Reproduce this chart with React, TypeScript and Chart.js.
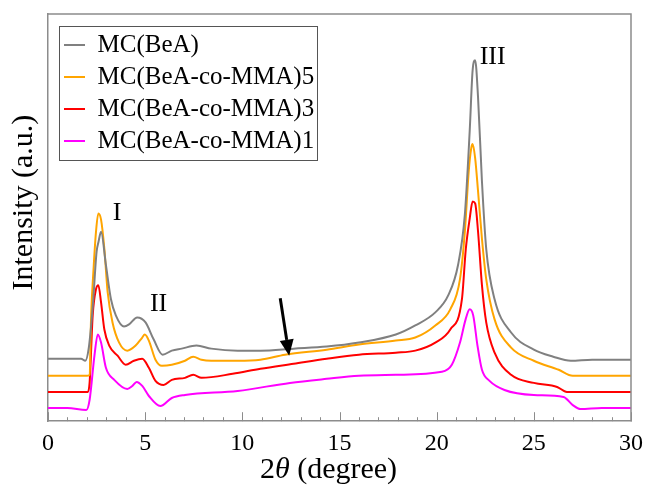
import React, { useEffect, useRef } from 'react';
import { Chart, registerables } from 'chart.js';

Chart.register(...registerables);

// ---- Data (2θ in degrees, intensity in arbitrary units) ----
const seriesNames = ['MC(BeA)', 'MC(BeA-co-MMA)5', 'MC(BeA-co-MMA)3', 'MC(BeA-co-MMA)1'];
const seriesColors = ['#808080', '#ffa500', '#ff0000', '#ff00ff'];

const beaX = [0, 1, 1.7, 1.92, 2.1, 2.3, 2.5, 2.6, 2.73, 2.98, 3.24, 3.49, 3.91, 4.17, 4.59, 5.02, 5.44, 5.9, 6.37, 6.88, 7.64, 8.4, 9.76, 10.93, 12.64, 14.34, 16.0, 17.9, 18.9, 19.93, 20.6, 21.1, 21.45, 21.7, 21.85, 21.98, 22.13, 22.33, 22.55, 22.98, 23.83, 25.0, 26.0, 26.9, 28, 30];
const beaY = [62, 62, 62, 60, 73, 113, 168, 178, 188, 155, 121, 105, 94, 96, 103, 98, 81, 66, 70, 72, 75, 72, 70, 70, 72, 74, 78, 86, 95, 108, 125, 155, 205, 288, 348, 358, 321, 238, 171, 121, 88, 71, 64, 60, 61, 61];

const mma5X = [0, 1, 2.0, 2.14, 2.22, 2.35, 2.47, 2.59, 2.73, 2.9, 3.07, 3.32, 3.66, 4.08, 4.51, 4.85, 4.98, 5.19, 5.53, 5.86, 6.37, 7.05, 7.47, 7.9, 8.4, 9.76, 10.93, 12.2, 14.34, 16.0, 17.9, 18.9, 19.93, 20.7, 21.2, 21.45, 21.65, 21.78, 21.85, 21.98, 22.13, 22.33, 22.55, 22.98, 23.83, 25.0, 26.28, 27.0, 28.5, 30];
const mma5Y = [45, 45, 45, 46, 105, 153, 188, 206, 200, 171, 128, 98, 78, 70, 75, 83, 86, 80, 61, 55, 56, 60, 64, 61, 60, 60, 61, 66, 71, 76, 80, 83, 95, 111, 141, 188, 248, 271, 275, 261, 228, 181, 141, 101, 73, 60, 51, 45, 45, 45];

const mma3X = [0, 1, 2.05, 2.14, 2.3, 2.47, 2.59, 2.73, 2.9, 3.15, 3.58, 4.0, 4.42, 4.85, 5.19, 5.53, 5.95, 6.37, 7.05, 7.47, 7.9, 9.5, 10.93, 12.64, 14.34, 16.0, 17.9, 18.9, 19.93, 20.7, 21.3, 21.5, 21.7, 21.85, 21.98, 22.13, 22.33, 22.55, 22.98, 23.83, 25.0, 26.2, 26.7, 28, 30];
const mma3Y = [29, 29, 29, 38, 105, 131, 135, 118, 91, 75, 65, 56, 60, 62, 53, 40, 36, 41, 43, 46, 43, 47, 52, 57, 62, 66, 68, 70, 78, 91, 121, 171, 201, 218, 216, 188, 135, 98, 68, 46, 38, 34, 29, 29, 29];

const mma1X = [0, 1, 1.97, 2.14, 2.39, 2.56, 2.73, 2.98, 3.41, 4.08, 4.34, 4.56, 4.85, 5.19, 5.78, 6.37, 7.05, 9.76, 12.45, 14.34, 16.0, 17.9, 20.27, 20.78, 21.2, 21.49, 21.7, 21.88, 22.1, 22.33, 22.72, 23.49, 25.0, 26.53, 27.0, 27.4, 28.5, 30];
const mma1Y = [13, 13, 11, 21, 65, 86, 78, 53, 41, 32, 35, 39, 35, 25, 15, 23, 26, 30, 38, 42, 45, 46, 49, 56, 78, 101, 111, 105, 75, 51, 40, 31, 26, 24, 16, 12, 13, 13];

const xTickStep = 5;
const xMin = 0;
const xMax = 30;
const yMin = 0;
const yMax = 404;

const xTitleParts = ['2', 'θ', ' (degree)'];
const yTitle = 'Intensity (a.u.)';

// Peak annotations (data coordinates)
const peakLabels = ['I', 'II', 'III'];
const peakLabelX = [3.56, 5.69, 22.88];
const peakLabelY = [206, 116, 361];
// Arrow (data coordinates): tail -> tip
const arrowTail = [11.95, 122];
const arrowTip = [12.41, 65];

const FONT = '"Liberation Serif", "Times New Roman", serif';
const FRAME = '#8c8c8c';

const toPoints = (xs: number[], ys: number[]) => xs.map((x, i) => ({ x, y: ys[i] }));

const decorPlugin = {
  id: 'decor',
  afterLayout(chart: any) {
    const lg = chart.legend;
    const ca = chart.chartArea;
    if (lg && ca) {
      lg.left = ca.left + 9;
      lg.top = ca.top + 11.5;
      lg.right = lg.left + lg.width;
      lg.bottom = lg.top + lg.height;
    }
  },
  afterDraw(chart: any) {
    const { ctx, chartArea } = chart;
    const xs = chart.scales.x;
    const ys = chart.scales.y;
    ctx.save();
    // top and right frame lines
    ctx.strokeStyle = FRAME;
    ctx.lineWidth = 1.5;
    ctx.beginPath();
    ctx.moveTo(chartArea.left, chartArea.top);
    ctx.lineTo(chartArea.right, chartArea.top);
    ctx.lineTo(chartArea.right, chartArea.bottom);
    ctx.stroke();
    // inward ticks on the x axis
    ctx.lineWidth = 1;
    for (let v = xMin; v <= xMax; v += 1) {
      const px = Math.round(xs.getPixelForValue(v)) + 0.5;
      const len = v % xTickStep === 0 ? 9 : 4;
      ctx.beginPath();
      ctx.moveTo(px, chartArea.bottom);
      ctx.lineTo(px, chartArea.bottom - len);
      ctx.stroke();
    }
    // legend frame
    const lg = chart.legend;
    if (lg && lg.legendHitBoxes && lg.legendHitBoxes.length) {
      const hb = lg.legendHitBoxes;
      let l = Infinity, t = Infinity, r = -Infinity, b = -Infinity;
      hb.forEach((h: any) => {
        l = Math.min(l, h.left);
        t = Math.min(t, h.top);
        r = Math.max(r, h.left + h.width);
        b = Math.max(b, h.top + h.height);
      });
      ctx.strokeStyle = '#555555';
      ctx.lineWidth = 1;
      ctx.strokeRect(Math.round(l - 5) + 0.5, Math.round(t - 7) + 0.5, Math.round(r - l + 8), Math.round(b - t + 13));
    }
    // axis titles
    ctx.fillStyle = '#000';
    ctx.textBaseline = 'alphabetic';
    const normal = `30px ${FONT}`;
    const italic = `italic 30px ${FONT}`;
    const fonts = [normal, italic, normal];
    const widths = xTitleParts.map((s, i) => {
      ctx.font = fonts[i];
      return ctx.measureText(s).width;
    });
    const total = widths.reduce((a, b) => a + b, 0);
    let tx = (chartArea.left + chartArea.right) / 2 - 11 - total / 2;
    const ty = chart.height - 7;
    ctx.textAlign = 'left';
    xTitleParts.forEach((s, i) => {
      ctx.font = fonts[i];
      ctx.fillText(s, tx, ty);
      tx += widths[i];
    });
    ctx.save();
    ctx.translate(chartArea.left - 16, (chartArea.top + chartArea.bottom) / 2 - 15);
    ctx.rotate(-Math.PI / 2);
    ctx.font = `30px ${FONT}`;
    ctx.textAlign = 'center';
    ctx.textBaseline = 'alphabetic';
    ctx.fillText(yTitle, 0, 0);
    ctx.restore();
    // peak labels
    ctx.font = `26px ${FONT}`;
    ctx.textAlign = 'center';
    ctx.textBaseline = 'middle';
    peakLabels.forEach((s, i) => {
      ctx.fillText(s, xs.getPixelForValue(peakLabelX[i]), ys.getPixelForValue(peakLabelY[i]));
    });
    // arrow
    const x1 = xs.getPixelForValue(arrowTail[0]);
    const y1 = ys.getPixelForValue(arrowTail[1]);
    const x2 = xs.getPixelForValue(arrowTip[0]);
    const y2 = ys.getPixelForValue(arrowTip[1]);
    const ang = Math.atan2(y2 - y1, x2 - x1);
    const headLen = 16;
    const headHalf = 7;
    const bx = x2 - headLen * Math.cos(ang);
    const by = y2 - headLen * Math.sin(ang);
    ctx.strokeStyle = '#000';
    ctx.lineWidth = 3;
    ctx.beginPath();
    ctx.moveTo(x1, y1);
    ctx.lineTo(bx, by);
    ctx.stroke();
    ctx.beginPath();
    ctx.moveTo(x2, y2);
    ctx.lineTo(bx + headHalf * Math.sin(ang), by - headHalf * Math.cos(ang));
    ctx.lineTo(bx - headHalf * Math.sin(ang), by + headHalf * Math.cos(ang));
    ctx.closePath();
    ctx.fill();
    ctx.restore();
  },
};

export default function App() {
  const canvasRef = useRef<HTMLCanvasElement | null>(null);

  useEffect(() => {
    document.body.style.margin = '0';
    const canvas = canvasRef.current;
    if (!canvas) return;
    const xsArr = [beaX, mma5X, mma3X, mma1X];
    const ysArr = [beaY, mma5Y, mma3Y, mma1Y];
    const chart = new Chart(canvas, {
      type: 'line',
      data: {
        datasets: seriesNames.map((name, i) => ({
          label: name,
          data: toPoints(xsArr[i], ysArr[i]),
          borderColor: seriesColors[i],
          backgroundColor: seriesColors[i],
          borderWidth: 2,
          pointRadius: 0,
          fill: false,
          cubicInterpolationMode: 'monotone' as const,
        })),
      },
      options: {
        responsive: false,
        animation: false,
        events: [],
        layout: { padding: { left: 48, right: 13, top: 14, bottom: 19 } },
        plugins: {
          tooltip: { enabled: false },
          legend: {
            position: 'chartArea',
            align: 'start',
            labels: {
              usePointStyle: true,
              pointStyle: 'line',
              pointStyleWidth: 21,
              padding: 7,
              color: '#000',
              font: { family: FONT, size: 25 },
            },
          },
        },
        scales: {
          x: {
            type: 'linear',
            min: xMin,
            max: xMax,
            grid: { display: false, drawTicks: false },
            border: { display: true, color: FRAME, width: 1.5 },
            ticks: {
              stepSize: xTickStep,
              autoSkip: false,
              padding: 8,
              color: '#000',
              font: { family: FONT, size: 24 },
            },
            title: { display: false },
          },
          y: {
            type: 'linear',
            min: yMin,
            max: yMax,
            grid: { display: false, drawTicks: false },
            border: { display: true, color: FRAME, width: 1.5 },
            ticks: { display: false },
            title: { display: false },
          },
        },
      },
      plugins: [decorPlugin],
    } as any);
    return () => chart.destroy();
  }, []);

  return (
    <div style={{ width: 651, height: 485 }}>
      <canvas ref={canvasRef} width={651} height={485} />
    </div>
  );
}
